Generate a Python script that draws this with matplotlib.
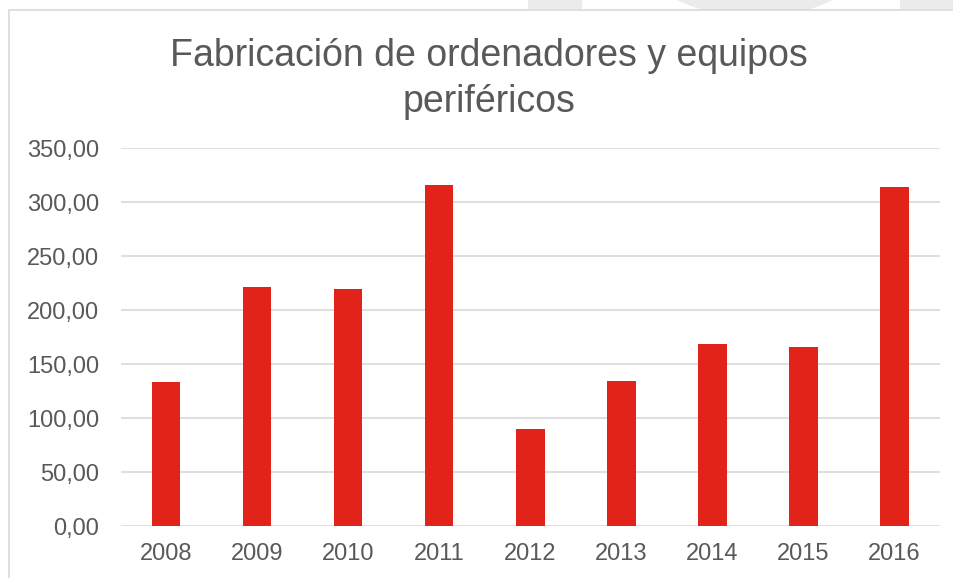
import numpy as np
import matplotlib
matplotlib.use("Agg")
import matplotlib.pyplot as plt
from matplotlib.patches import Rectangle, Circle

# data
years = ["2008", "2009", "2010", "2011", "2012", "2013", "2014", "2015", "2016"]
values = [133.3, 221.3, 219.4, 316.0, 90.1, 134.3, 169.1, 166.0, 313.9]
yticks = [0, 50, 100, 150, 200, 250, 300, 350]
title_lines = ["Fabricación de ordenadores y equipos", "periféricos"]

W, H = 954, 578
plt.rcParams['font.family'] = ['Liberation Sans', 'DejaVu Sans']
fig = plt.figure(figsize=(W / 100, H / 100), dpi=100)
fig.patch.set_facecolor("white")

def px(x, y):
    # image pixels (top-left origin) -> figure fraction
    return x / W, 1 - y / H

# faint background shapes above the chart box
gray = "#ebebeb"
for x0, x1 in [(528, 582), (900, 960)]:
    fig.patches.append(Rectangle(px(x0, 9), (x1 - x0) / W, 9 / H, transform=fig.transFigure,
                                 facecolor=gray, edgecolor="none", zorder=-3))
fig.patches.append(Circle((755, H + 159), 177, transform=None, facecolor=gray,
                          edgecolor="none", zorder=-3))

# chart box, top-left corner at (9.5, 9.5), running off the right and bottom
fig.patches.append(Rectangle(px(9.5, 700), 2, 690 / H, transform=fig.transFigure,
                             facecolor="white", edgecolor="#d9d9d9", lw=1.2, zorder=-2))

ax = fig.add_axes([120.5 / W, 1 - 526.3 / H, (940 - 120.5) / W, (526.3 - 148.3) / H])
x = np.arange(len(years))
ax.bar(x, values, width=0.313, color="#e2231a", zorder=3)
ax.set_xlim(-0.5, len(years) - 0.5)
ax.set_ylim(0, 350)
ax.set_yticks(yticks)
ax.set_yticklabels([f"{v:.2f}".replace(".", ",") for v in yticks])
ax.set_xticks(x)
ax.set_xticklabels(years)
ax.yaxis.grid(True, color="#d9d9d9", lw=1.2, zorder=0)
ax.set_axisbelow(True)
for s in ax.spines.values():
    s.set_visible(False)
ax.tick_params(axis="both", length=0, labelsize=17, labelcolor="#595959")
ax.tick_params(axis="y", pad=15.5)
ax.tick_params(axis="x", pad=12)
ax.patch.set_alpha(0)

for line, base in zip(title_lines, [66, 112]):
    fig.text(489 / W, 1 - base / H, line, ha="center", va="baseline", fontsize=27,
             color="#595959")

fig.savefig("out.png", dpi=100)
